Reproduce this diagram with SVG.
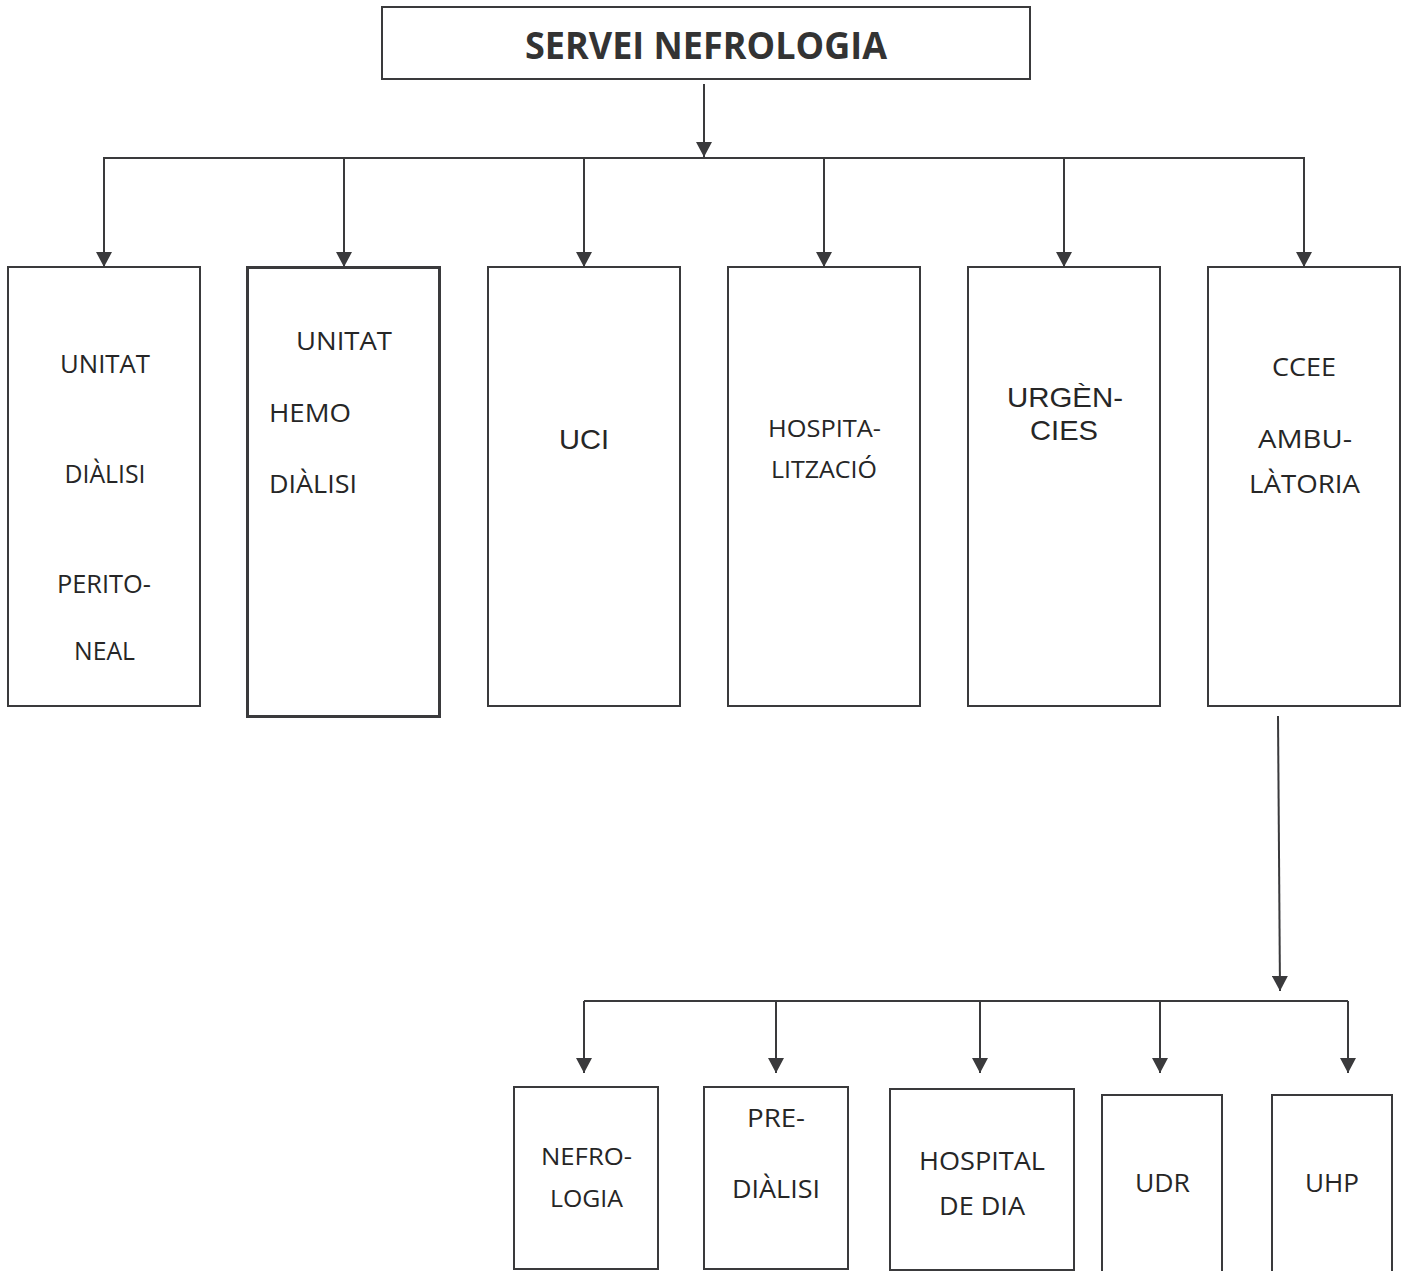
<svg xmlns="http://www.w3.org/2000/svg" width="1405" height="1271" viewBox="0 0 1405 1271">
<style>
.box{fill:#fff;stroke:#3a3a3c;stroke-width:2}
.thick{stroke-width:3}
.ln{fill:none;stroke:#3a3a3c;stroke-width:2}
.t{font-family:"Open Sans","Noto Sans",sans-serif;font-size:25px;fill:#262626;text-anchor:middle}
.ts{font-size:23px}
.l{text-anchor:start}
.a{font-family:"Liberation Sans",Arial,sans-serif;font-size:28px;fill:#262626;text-anchor:middle}
.title{font-family:"Open Sans","Noto Sans",sans-serif;font-weight:bold;font-size:37px;fill:#333;text-anchor:middle}
</style>
<defs>
<marker id="arr" markerUnits="userSpaceOnUse" markerWidth="16" markerHeight="16" refX="15" refY="8" orient="auto">
<path d="M0,0 L15,8 L0,16 Z" fill="#3a3a3c"/>
</marker>
</defs>
<rect width="1405" height="1271" fill="#fff"/>
<g id="connectors">
<line class="ln" x1="704" y1="84" x2="704" y2="157" marker-end="url(#arr)"/>
<polyline class="ln" points="104,267 104,158 1304,158 1304,267" marker-end="url(#arr)"/>
<line class="ln" x1="344" y1="158" x2="344" y2="267" marker-end="url(#arr)"/>
<line class="ln" x1="584" y1="158" x2="584" y2="267" marker-end="url(#arr)"/>
<line class="ln" x1="824" y1="158" x2="824" y2="267" marker-end="url(#arr)"/>
<line class="ln" x1="1064" y1="158" x2="1064" y2="267" marker-end="url(#arr)"/>
<line class="ln" x1="104" y1="158" x2="104" y2="267" marker-end="url(#arr)"/>
<line class="ln" x1="1278" y1="716" x2="1280" y2="991" marker-end="url(#arr)"/>
<polyline class="ln" points="584,1001 1348,1001"/>
<line class="ln" x1="584" y1="1001" x2="584" y2="1073" marker-end="url(#arr)"/>
<line class="ln" x1="776" y1="1001" x2="776" y2="1073" marker-end="url(#arr)"/>
<line class="ln" x1="980" y1="1001" x2="980" y2="1073" marker-end="url(#arr)"/>
<line class="ln" x1="1160" y1="1001" x2="1160" y2="1073" marker-end="url(#arr)"/>
<line class="ln" x1="1348" y1="1001" x2="1348" y2="1073" marker-end="url(#arr)"/>
</g>
<g id="servei">
<rect class="box" x="382" y="7" width="648" height="72"/>
<text class="title" x="706" y="59" textLength="362" lengthAdjust="spacingAndGlyphs">SERVEI NEFROLOGIA</text>
</g>
<g id="dialisi-peritoneal">
<rect class="box" x="8" y="267" width="192" height="439"/>
<text class="t" x="105" y="373" textLength="90" lengthAdjust="spacingAndGlyphs">UNITAT</text>
<text class="t" x="105" y="483" textLength="81" lengthAdjust="spacingAndGlyphs">DIÀLISI</text>
<text class="t" x="104" y="593" textLength="94" lengthAdjust="spacingAndGlyphs">PERITO-</text>
<text class="t" x="104.5" y="660" textLength="61" lengthAdjust="spacingAndGlyphs">NEAL</text>
</g>
<g id="hemodialisi">
<rect class="box thick" x="247.5" y="267.5" width="192" height="449"/>
<text class="t" x="344" y="350" font-size="27" textLength="96" lengthAdjust="spacingAndGlyphs">UNITAT</text>
<text class="t l" x="269" y="422" font-size="27" textLength="82" lengthAdjust="spacingAndGlyphs">HEMO</text>
<text class="t l" x="269" y="493" font-size="27" textLength="88" lengthAdjust="spacingAndGlyphs">DIÀLISI</text>
</g>
<g id="uci">
<rect class="box" x="488" y="267" width="192" height="439"/>
<text class="a" x="584" y="449" font-size="31" textLength="50" lengthAdjust="spacingAndGlyphs">UCI</text>
</g>
<g id="hospitalitzacio">
<rect class="box" x="728" y="267" width="192" height="439"/>
<text class="t ts" x="824.5" y="437" textLength="113" lengthAdjust="spacingAndGlyphs">HOSPITA-</text>
<text class="t ts" x="824" y="478" textLength="106" lengthAdjust="spacingAndGlyphs">LITZACIÓ</text>
</g>
<g id="urgencies">
<rect class="box" x="968" y="267" width="192" height="439"/>
<text class="a" x="1065" y="407" textLength="116" lengthAdjust="spacingAndGlyphs">URGÈN-</text>
<text class="a" x="1064" y="440" textLength="68" lengthAdjust="spacingAndGlyphs">CIES</text>
</g>
<g id="ccee">
<rect class="box" x="1208" y="267" width="192" height="439"/>
<text class="t" x="1304" y="376" textLength="64" lengthAdjust="spacingAndGlyphs">CCEE</text>
<text class="t" x="1305" y="448" textLength="94" lengthAdjust="spacingAndGlyphs">AMBU-</text>
<text class="t" x="1304.5" y="493" textLength="111" lengthAdjust="spacingAndGlyphs">LÀTORIA</text>
</g>
<g id="nefrologia">
<rect class="box" x="514" y="1087" width="144" height="182"/>
<text class="t ts" x="586.5" y="1165" textLength="91" lengthAdjust="spacingAndGlyphs">NEFRO-</text>
<text class="t ts" x="586.5" y="1207" textLength="73" lengthAdjust="spacingAndGlyphs">LOGIA</text>
</g>
<g id="predialisi">
<rect class="box" x="704" y="1087" width="144" height="182"/>
<text class="t" x="776" y="1127" textLength="58" lengthAdjust="spacingAndGlyphs">PRE-</text>
<text class="t" x="776" y="1198" textLength="88" lengthAdjust="spacingAndGlyphs">DIÀLISI</text>
</g>
<g id="hospital-de-dia">
<rect class="box" x="890" y="1089" width="184" height="181"/>
<text class="t" x="982" y="1170" textLength="126" lengthAdjust="spacingAndGlyphs">HOSPITAL</text>
<text class="t" x="982" y="1215" textLength="86" lengthAdjust="spacingAndGlyphs">DE DIA</text>
</g>
<g id="udr">
<rect class="box" x="1102" y="1095" width="120" height="220"/>
<text class="t" x="1162.5" y="1192" textLength="55" lengthAdjust="spacingAndGlyphs">UDR</text>
</g>
<g id="uhp">
<rect class="box" x="1272" y="1095" width="120" height="220"/>
<text class="t" x="1332" y="1192" textLength="54" lengthAdjust="spacingAndGlyphs">UHP</text>
</g>
</svg>
